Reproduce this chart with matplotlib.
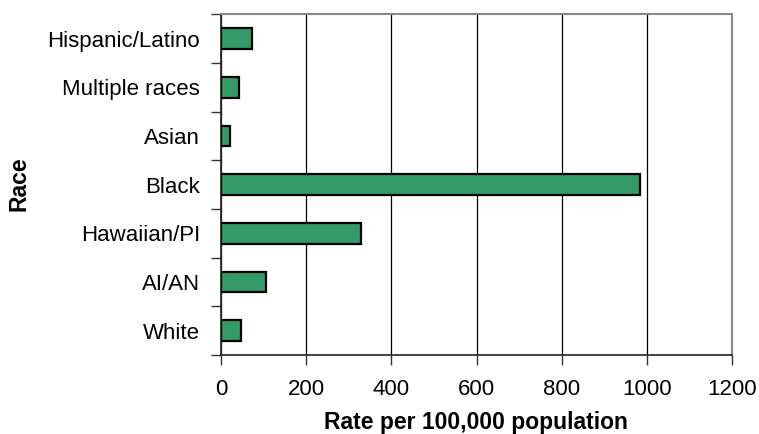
import matplotlib
matplotlib.use("Agg")
import matplotlib.pyplot as plt
import numpy as np

categories = ["Hispanic/Latino", "Multiple races", "Asian", "Black", "Hawaiian/PI", "AI/AN", "White"]
rates = [73, 43, 21, 985, 328, 106, 47]
xticks = [0, 200, 400, 600, 800, 1000, 1200]

plt.rcParams['font.family'] = ['Liberation Sans', 'DejaVu Sans']

W, H = 759, 434
fig = plt.figure(figsize=(W / 100, H / 100), dpi=100)
ax = fig.add_axes([0.2912, 0.182, 0.6732, 0.785])

pos = np.arange(len(categories))
ax.barh(pos, rates, height=0.42, color="#339966", edgecolor="black", linewidth=1.6, zorder=3)

ax.set_xlim(0, 1200)
ax.set_ylim(len(categories) - 0.5, -0.5)
ax.set_xticks(xticks)
ax.set_xticklabels([str(t) for t in xticks], fontsize=16)
ax.xaxis.grid(True, color="black", linewidth=0.9, zorder=0)

ax.set_yticks(np.arange(-0.5, len(categories), 1.0))
ax.set_yticklabels([])
ax.set_yticks(pos, minor=True)
ax.set_yticklabels(categories, minor=True, fontsize=16)
ax.tick_params(axis='y', which='minor', length=0, pad=15)
ax.tick_params(axis='y', which='major', length=7, width=1, color="#333333", direction='out')
ax.tick_params(axis='x', length=7, width=1, color="#333333", direction='out', pad=10)

for s in ['left', 'bottom']:
    ax.spines[s].set_color("#222222")
    ax.spines[s].set_linewidth(1.2)
for s in ['top', 'right']:
    ax.spines[s].set_color("#888888")
    ax.spines[s].set_linewidth(1.5)

fig.text(476 / W, 1 - 422 / H, "Rate per 100,000 population", fontsize=16.5,
         fontweight='bold', ha='center', va='center')
fig.text(19 / W, 1 - 184 / H, "Race", fontsize=16.5, fontweight='bold',
         rotation=90, ha='center', va='center')

fig.savefig("out.png", dpi=100)
